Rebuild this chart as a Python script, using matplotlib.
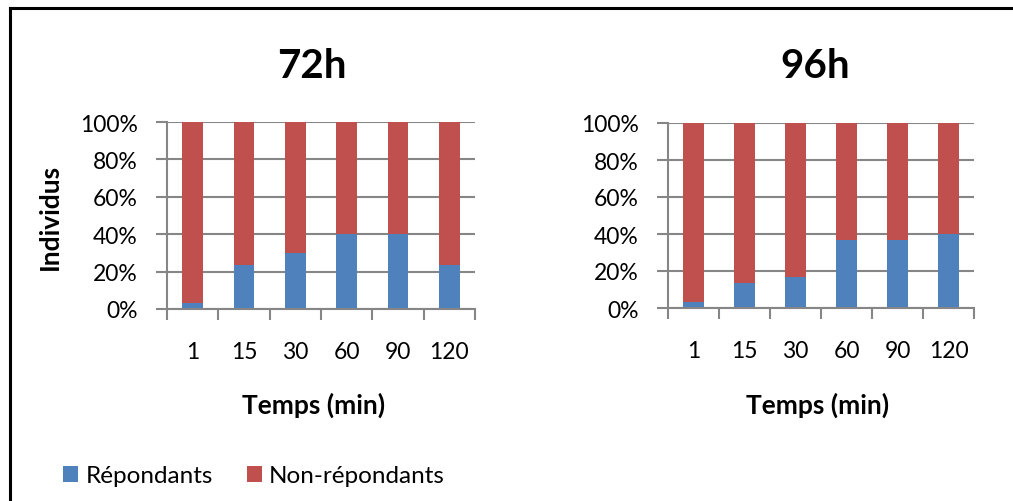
import numpy as np
import matplotlib
matplotlib.use("Agg")
import matplotlib.pyplot as plt
from matplotlib.patches import Patch
from matplotlib.lines import Line2D

plt.rcParams['font.family'] = ['Lato', 'DejaVu Sans']

# --- données : % d'individus par temps d'exposition ---
temps = ['1', '15', '30', '60', '90', '120']
rep_72 = [3.3, 23.3, 30.0, 40.0, 40.0, 23.3]
non_rep_72 = [96.7, 76.7, 70.0, 60.0, 60.0, 76.7]
rep_96 = [3.3, 13.3, 16.7, 36.7, 36.7, 40.0]
non_rep_96 = [96.7, 86.7, 83.3, 63.3, 63.3, 60.0]
y_ticks = [0, 20, 40, 60, 80, 100]

BLEU = '#4F81BD'
ROUGE = '#C0504D'
GRIS = '#868686'

W, H = 1013, 502
fig = plt.figure(figsize=(W / 100, H / 100), dpi=100)


def px_axes(left, top, right, bottom):
    return fig.add_axes([left / W, 1 - bottom / H, (right - left) / W, (bottom - top) / H])


def draw_panel(ax, rep, non_rep):
    x = np.arange(len(temps))
    ax.bar(x, rep, width=0.4, color=BLEU, zorder=3)
    ax.bar(x, non_rep, width=0.4, bottom=rep, color=ROUGE, zorder=3)
    ax.set_xlim(-0.5, len(temps) - 0.5)
    ax.set_ylim(0, 100)
    ax.set_yticks(y_ticks, [f"{v}%" for v in y_ticks])
    ax.set_xticks(x, temps)
    ax.set_xticks(np.arange(len(temps) + 1) - 0.5, minor=True)
    ax.tick_params(axis='x', which='major', length=0, pad=23, labelsize=16.5)
    ax.tick_params(axis='x', which='minor', length=8, width=1.5, color=GRIS)
    ax.tick_params(axis='y', length=8, width=1.5, color=GRIS, pad=13, labelsize=16.5)
    ax.grid(axis='y', color=GRIS, linewidth=1.5, zorder=0)
    for s in ['top', 'right']:
        ax.spines[s].set_visible(False)
    for s in ['left', 'bottom']:
        ax.spines[s].set_color(GRIS)
        ax.spines[s].set_linewidth(1.5)
        ax.spines[s].set_zorder(4)


ax1 = px_axes(167, 123, 475, 310)
draw_panel(ax1, rep_72, non_rep_72)
ax2 = px_axes(668, 124, 974, 309)
draw_panel(ax2, rep_96, non_rep_96)

# titres et libellés d'axes
fig.text(312 / W, 1 - 78 / H, '72h', ha='center', va='baseline', fontsize=29, fontweight='bold')
fig.text(815 / W, 1 - 78 / H, '96h', ha='center', va='baseline', fontsize=29, fontweight='bold')
fig.text(314 / W, 1 - 405 / H, 'Temps (min)', ha='center', va='center', fontsize=19, fontweight='bold')
fig.text(818 / W, 1 - 405 / H, 'Temps (min)', ha='center', va='center', fontsize=19, fontweight='bold')
fig.text(50 / W, 1 - 217 / H, 'Individus', ha='center', va='center', rotation=90,
         fontsize=19, fontweight='bold')

# légende
handles = [Patch(facecolor=BLEU), Patch(facecolor=ROUGE)]
fig.legend(handles, ['Répondants', 'Non-répondants'], ncol=2, frameon=False,
           loc='center left', bbox_to_anchor=(63 / W, 1 - 477 / H), fontsize=17.5,
           handlelength=0.62, handleheight=0.62, handletextpad=0.3, columnspacing=1.4,
           borderaxespad=0, borderpad=0)

# cadre (haut et gauche)
fig.add_artist(Line2D([10 / W, 1], [1 - 9 / H, 1 - 9 / H], color='black', linewidth=2.2))
fig.add_artist(Line2D([10 / W, 10 / W], [0, 1 - 9 / H], color='black', linewidth=2.2))

fig.savefig('out.png', dpi=100)
